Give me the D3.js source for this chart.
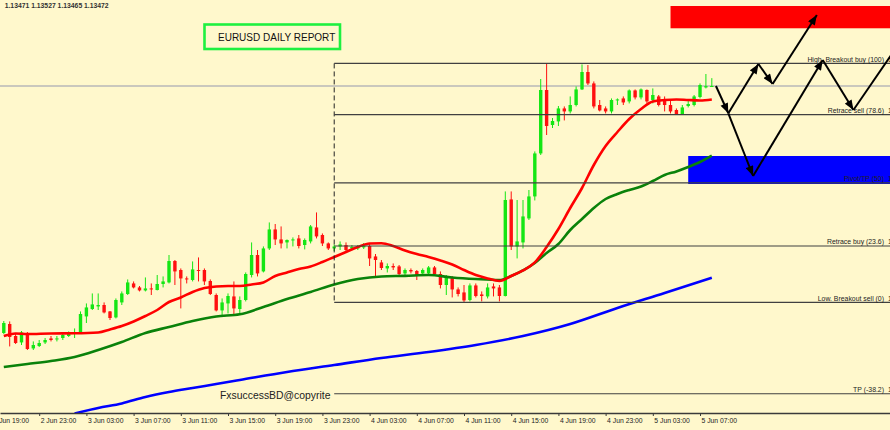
<!DOCTYPE html>
<html><head><meta charset="utf-8">
<script src="https://cdn.jsdelivr.net/npm/d3@7"></script>
<style>html,body{margin:0;padding:0;background:#FFF8CC;overflow:hidden}svg{display:block}</style>
</head><body><svg id="chart" width="890" height="430"></svg>
<script>
// ---------- DATA ----------
const symbolTitle = "EURUSD DAILY REPORT";
const watermark = "FxsuccessBD@copyrite";
const lastOHLC = [1.13471, 1.13527, 1.13465, 1.13472];
const currentPrice = 1.13472;

// 30-minute bars, index 0 = 2 Jun 20:00
const opens = [1.11743,1.11806,1.11722,1.11677,1.11743,1.11635,1.11652,1.11677,1.11705,1.11698,1.11708,1.11722,1.11740,1.11747,1.11859,1.11911,1.11929,1.11939,1.11894,1.11852,1.11957,1.12016,1.12090,1.12062,1.12041,1.12055,1.12044,1.12086,1.12097,1.12247,1.12184,1.12125,1.12114,1.12184,1.12184,1.12107,1.12009,1.11901,1.11950,1.11999,1.11911,1.11974,1.12149,1.12289,1.12174,1.12335,1.12468,1.12398,1.12377,1.12394,1.12405,1.12359,1.12384,1.12482,1.12429,1.12370,1.12335,1.12349,1.12359,1.12335,1.12335,1.12342,1.12352,1.12279,1.12237,1.12195,1.12212,1.12209,1.12160,1.12184,1.12177,1.12160,1.12160,1.12202,1.12156,1.12079,1.12132,1.12048,1.12027,1.11974,1.12076,1.12013,1.11999,1.12069,1.12062,1.12002,1.12678,1.12349,1.12377,1.12545,1.12699,1.13000,1.13444,1.13199,1.13224,1.13315,1.13294,1.13339,1.13448,1.13570,1.13490,1.13339,1.13315,1.13294,1.13371,1.13385,1.13364,1.13441,1.13392,1.13444,1.13374,1.13399,1.13374,1.13339,1.13304,1.13276,1.13332,1.13339,1.13395,1.13462,1.13471];
const highs = [1.11827,1.11824,1.11736,1.11757,1.11750,1.11684,1.11694,1.11708,1.11722,1.11722,1.11740,1.11754,1.11775,1.11894,1.11950,1.12020,1.12020,1.11957,1.11897,1.11985,1.12034,1.12118,1.12104,1.12072,1.12132,1.12090,1.12149,1.12139,1.12289,1.12254,1.12195,1.12139,1.12244,1.12272,1.12195,1.12118,1.12020,1.11985,1.12020,1.12104,1.11999,1.12167,1.12377,1.12324,1.12349,1.12517,1.12506,1.12489,1.12398,1.12412,1.12429,1.12405,1.12499,1.12587,1.12440,1.12377,1.12363,1.12384,1.12377,1.12359,1.12359,1.12373,1.12370,1.12296,1.12254,1.12230,1.12230,1.12219,1.12195,1.12195,1.12184,1.12195,1.12212,1.12212,1.12174,1.12149,1.12142,1.12062,1.12079,1.12090,1.12090,1.12034,1.12090,1.12090,1.12079,1.12734,1.12734,1.12674,1.12674,1.12744,1.13014,1.13521,1.13630,1.13248,1.13332,1.13329,1.13399,1.13469,1.13623,1.13619,1.13504,1.13374,1.13329,1.13385,1.13385,1.13399,1.13448,1.13448,1.13455,1.13448,1.13455,1.13409,1.13399,1.13374,1.13315,1.13339,1.13374,1.13409,1.13490,1.13556,1.13527];
const lows = [1.11736,1.11649,1.11666,1.11659,1.11624,1.11624,1.11645,1.11666,1.11684,1.11684,1.11694,1.11715,1.11708,1.11740,1.11813,1.11904,1.11904,1.11880,1.11834,1.11845,1.11939,1.12009,1.12055,1.12034,1.12034,1.12009,1.12041,1.12062,1.12090,1.12079,1.11915,1.12090,1.12104,1.12104,1.12079,1.12009,1.11894,1.11869,1.11880,1.11869,1.11880,1.11964,1.12132,1.12139,1.12167,1.12324,1.12359,1.12335,1.12335,1.12349,1.12335,1.12328,1.12370,1.12405,1.12352,1.12324,1.12317,1.12324,1.12314,1.12324,1.12324,1.12331,1.12212,1.12142,1.12184,1.12167,1.12184,1.12149,1.12149,1.12160,1.12114,1.12149,1.12149,1.12142,1.12055,1.12009,1.11992,1.11999,1.11957,1.11964,1.11992,1.11964,1.11985,1.11999,1.11964,1.11999,1.12324,1.12265,1.12335,1.12534,1.12671,1.12989,1.13129,1.13178,1.13192,1.13231,1.13280,1.13329,1.13444,1.13479,1.13315,1.13294,1.13280,1.13280,1.13339,1.13339,1.13350,1.13378,1.13378,1.13350,1.13350,1.13329,1.13294,1.13280,1.13269,1.13269,1.13322,1.13329,1.13385,1.13455,1.13465];
const closes = [1.11813,1.11715,1.11673,1.11747,1.11631,1.11659,1.11673,1.11694,1.11694,1.11705,1.11729,1.11740,1.11750,1.11876,1.11922,1.11943,1.11939,1.11887,1.11848,1.11974,1.12020,1.12097,1.12062,1.12041,1.12055,1.12048,1.12086,1.12104,1.12247,1.12174,1.12125,1.12118,1.12188,1.12177,1.12104,1.12016,1.11901,1.11957,1.12002,1.11915,1.11974,1.12156,1.12289,1.12160,1.12335,1.12468,1.12398,1.12370,1.12394,1.12398,1.12352,1.12394,1.12489,1.12419,1.12370,1.12335,1.12349,1.12363,1.12324,1.12345,1.12349,1.12352,1.12265,1.12254,1.12198,1.12212,1.12202,1.12156,1.12184,1.12174,1.12149,1.12184,1.12202,1.12156,1.12079,1.12132,1.12048,1.12016,1.11971,1.12076,1.12002,1.12002,1.12062,1.12055,1.12002,1.12674,1.12349,1.12384,1.12559,1.12699,1.13000,1.13444,1.13192,1.13227,1.13315,1.13294,1.13339,1.13448,1.13570,1.13490,1.13329,1.13301,1.13294,1.13374,1.13378,1.13357,1.13441,1.13392,1.13448,1.13364,1.13409,1.13339,1.13339,1.13294,1.13273,1.13322,1.13346,1.13399,1.13479,1.13471,1.13472];

// moving averages read at sample bars
const redMaBars = [0,2,4,8,12,16,18,20,22,24,26,28,30,32,34,36,38,40,42,44,46,48,50,52,54,56,58,60,62,64,66,68,70,72,74,76,78,80,82,84,86,88,90,92,94,96,98,100,102,104,106,108,110,112,114,116,118,120];
const redMa = [1.11722,1.11740,1.11736,1.11740,1.11741,1.11747,1.11768,1.11792,1.11824,1.11862,1.11904,1.11960,1.11992,1.12030,1.12058,1.12069,1.12072,1.12072,1.12083,1.12097,1.12142,1.12167,1.12191,1.12209,1.12240,1.12275,1.12310,1.12345,1.12370,1.12371,1.12352,1.12321,1.12296,1.12275,1.12251,1.12223,1.12184,1.12149,1.12125,1.12107,1.12142,1.12181,1.12237,1.12345,1.12471,1.12618,1.12758,1.12919,1.13052,1.13150,1.13241,1.13311,1.13364,1.13374,1.13378,1.13374,1.13371,1.13378];
const greenMaBars = [0,4,8,12,16,20,24,28,32,36,40,44,48,52,56,60,64,68,72,76,80,84,86,88,90,92,94,96,98,100,102,104,106,108,110,112,114,116,118,120];
const greenMa = [1.11505,1.11526,1.11547,1.11575,1.11624,1.11680,1.11743,1.11785,1.11827,1.11859,1.11874,1.11925,1.11981,1.12030,1.12083,1.12121,1.12139,1.12143,1.12149,1.12132,1.12121,1.12114,1.12142,1.12181,1.12233,1.12303,1.12366,1.12464,1.12541,1.12618,1.12681,1.12716,1.12744,1.12769,1.12807,1.12849,1.12874,1.12905,1.12940,1.12984];
const blueMaBars = [12,16,20,24,28,32,36,40,48,56,64,72,80,88,96,104,112,120];
const blueMa = [1.11180,1.11218,1.11250,1.11295,1.11330,1.11358,1.11386,1.11414,1.11470,1.11519,1.11568,1.11610,1.11659,1.11722,1.11806,1.11918,1.12023,1.12130];

// time axis
const tickBars = [-2,6,14,22,30,38,46,54,62,70,78,86,94,102,110,118];
const tickLabels = ["2 Jun 19:00","2 Jun 23:00","3 Jun 03:00","3 Jun 07:00","3 Jun 11:00","3 Jun 15:00","3 Jun 19:00","3 Jun 23:00","4 Jun 03:00","4 Jun 07:00","4 Jun 11:00","4 Jun 15:00","4 Jun 19:00","4 Jun 23:00","5 Jun 03:00","5 Jun 07:00"];

// fibonacci
const fibAnchorBar = 56;
const fibHigh = 1.13630, fibLow = 1.11957;
const fibLevels = [100, 78.6, 50, 23.6, 0, -38.2];
const fibNames = ["High. Breakout buy", "Retrace sell", "Pivot/TP", "Retrace buy", "Low. Breakout sell", "TP"];

// zones [startBar, endBar, lowPrice, highPrice]
const sellZone = [113, 160, 1.13876, 1.14032];
const buyZone = [116, 160, 1.12786, 1.12982];

// projected path points [bar, price]
const pathPts = {A:[120.7,1.13472],B:[122.8,1.13281],C:[127.9,1.13626],D:[130.3,1.13486],E:[137.8,1.13969],
                 F:[127.0,1.12842],G:[138.8,1.13654],H:[144.0,1.13304],J:[152.0,1.13785]};
const pathSegs = [["A","B",1],["B","C",1],["C","D",1],["D","E",1],["B","F",1],["F","G",1],["G","H",1],["H","J",0]];

// ---------- CHART ----------
const W = 890, Hh = 430, plotBottom = 413;
const svg = d3.select("#chart");
const x = d3.scaleLinear().domain([-0.644, 150.2]).range([0, W]);
const y = d3.scaleLinear().domain([1.11183, 1.14074]).range([plotBottom, 0]);
const FONT = "'Liberation Sans', Arial, sans-serif";

svg.append("rect").attr("width", W).attr("height", Hh).attr("fill", "#FFF8CC");
const defs = svg.append("defs");
defs.append("clipPath").attr("id","plot").append("rect").attr("x",0).attr("y",0).attr("width",W).attr("height",plotBottom);
defs.append("marker").attr("id","ah").attr("viewBox","0 0 10 8").attr("refX",10).attr("refY",4)
  .attr("markerWidth",11).attr("markerHeight",8).attr("markerUnits","userSpaceOnUse").attr("orient","auto")
  .append("path").attr("d","M0,0L10,4L0,8Z").attr("fill","#000");

const plot = svg.append("g").attr("clip-path","url(#plot)");

// zones
[[sellZone,"#FF0000"],[buyZone,"#0000FF"]].forEach(([z,c])=>{
  plot.append("rect").attr("x", x(z[0])).attr("width", x(z[1]) - x(z[0]))
    .attr("y", y(z[3])).attr("height", y(z[2]) - y(z[3])).attr("fill", c);
});

// current price line
plot.append("line").attr("x1",0).attr("x2",W).attr("y1",y(currentPrice)).attr("y2",y(currentPrice))
  .attr("stroke","#b9b9b9").attr("stroke-width",1.3);

// candles
const bars = opens.map((o,i)=>({i, o, h:highs[i], l:lows[i], c:closes[i]}));
const cg = plot.append("g");
const bw = 3.4;
bars.forEach(d=>{
  const col = d.c >= d.o ? "#14e614" : "#ff1010";
  cg.append("line").attr("x1",x(d.i)).attr("x2",x(d.i)).attr("y1",y(d.h)).attr("y2",y(d.l))
    .attr("stroke",col).attr("stroke-width",1);
  const top = y(Math.max(d.o,d.c)), bot = y(Math.min(d.o,d.c));
  cg.append("rect").attr("x",x(d.i)-bw/2).attr("width",bw).attr("y",top).attr("height",Math.max(1,bot-top)).attr("fill",col);
});

// moving averages
const lineGen = d3.line().x(d=>x(d[0])).y(d=>y(d[1])).curve(d3.curveMonotoneX);
[[blueMaBars,blueMa,"#0000FF"],[greenMaBars,greenMa,"#0a820a"],[redMaBars,redMa,"#FF0000"]].forEach(([b,v,c])=>{
  plot.append("path").attr("d", lineGen(b.map((bb,k)=>[bb,v[k]]))).attr("fill","none")
    .attr("stroke",c).attr("stroke-width",2.6).attr("stroke-linejoin","round");
});

// fibonacci
const fg = svg.append("g");
fg.append("line").attr("x1",x(fibAnchorBar)).attr("x2",x(fibAnchorBar)).attr("y1",y(fibHigh)).attr("y2",y(fibLow))
  .attr("stroke","#222").attr("stroke-width",1).attr("stroke-dasharray","5,3");
fibLevels.forEach((lv,k)=>{
  const p = fibLow + (fibHigh - fibLow) * lv / 100;
  const yy = y(p);
  fg.append("line").attr("x1",x(fibAnchorBar)).attr("x2",W).attr("y1",yy).attr("y2",yy)
    .attr("stroke","#404040").attr("stroke-width",1.2);
  fg.append("text").attr("x",884).attr("y",yy-1.8).attr("text-anchor","end")
    .style("font-family",FONT).style("font-size","6.9px").attr("fill","#222")
    .text(`${fibNames[k]} (${lv})`);
  fg.append("text").attr("x",888).attr("y",yy-1.8)
    .style("font-family",FONT).style("font-size","6.9px").attr("fill","#222")
    .text(p.toFixed(5));
});

// projection arrows
const ag = svg.append("g");
pathSegs.forEach(([a,b,head])=>{
  const pa = pathPts[a], pb = pathPts[b];
  const ln = ag.append("line").attr("x1",x(pa[0])).attr("y1",y(pa[1])).attr("x2",x(pb[0])).attr("y2",y(pb[1]))
    .attr("stroke","#000").attr("stroke-width",2);
  if (head) ln.attr("marker-end","url(#ah)");
});

// title box
svg.append("rect").attr("x",204.5).attr("y",24.5).attr("width",135.5).attr("height",24.5)
  .attr("fill","none").attr("stroke","#1ef040").attr("stroke-width",2.6);
svg.append("text").attr("x",218).attr("y",40.7).style("font-family",FONT).style("font-size","10px")
  .attr("fill","#111").text(symbolTitle);

// watermark
svg.append("text").attr("x",220).attr("y",398.5).style("font-family",FONT).style("font-size","10.4px")
  .attr("fill","#222").text(watermark);

// OHLC info
svg.append("text").attr("x",4.7).attr("y",7.6).style("font-family",FONT).style("font-size","6.8px")
  .style("font-weight","600").attr("fill","#333").text(lastOHLC.map(v=>v.toFixed(5)).join(" "));

// axis
const xAxis = d3.axisBottom(x).tickValues(tickBars).tickFormat(d=>tickLabels[tickBars.indexOf(d)])
  .tickSize(3).tickSizeOuter(0);
const gx = svg.append("g").attr("transform",`translate(0,${plotBottom})`).call(xAxis);
gx.select(".domain").attr("stroke","#3a3a3a").attr("stroke-width",1.3);
gx.selectAll(".tick line").attr("stroke","#3a3a3a");
gx.selectAll(".tick text").attr("text-anchor","start").attr("x",1).attr("y",9.8).attr("dy",0)
  .style("font-family",FONT).style("font-size","6.8px").attr("fill","#222");
</script></body></html>
